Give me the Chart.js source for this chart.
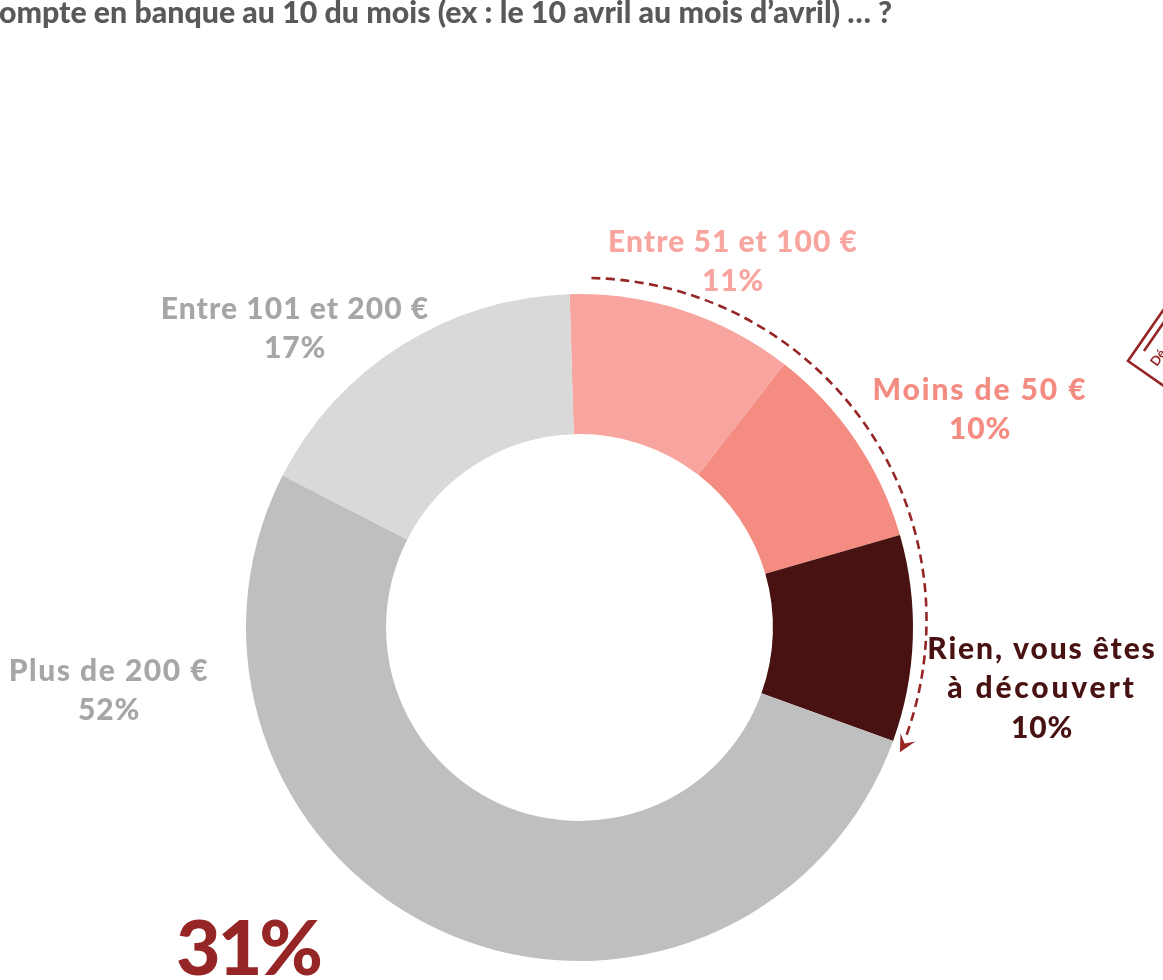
<!DOCTYPE html>
<html><head><meta charset="utf-8">
<script src="https://cdn.jsdelivr.net/npm/chart.js@4"></script>
<style>html,body{margin:0;padding:0;background:#fff;overflow:hidden}canvas{display:block}</style>
</head><body><canvas id="c" width="1163" height="980"></canvas>
<script>
const categories = ["Entre 51 et 100 €","Moins de 50 €","Rien, vous êtes à découvert","Plus de 200 €","Entre 101 et 200 €"];
const values = [11,10,10,52,17];
const colors = ["#F7A59E","#F48C82","#481212","#BFBFBF","#D9D9D9"];
const titleText = "ompte en banque au 10 du mois (ex : le 10 avril au mois d’avril) … ?";
const calloutText = "31%";
const labelLines = [["Entre 51 et 100 €","11%"],["Moins de 50 €","10%"],["Rien, vous êtes","à découvert","10%"],["Plus de 200 €","52%"],["Entre 101 et 200 €","17%"]];
const labelSpacing = [[1.05,0.8],[1.9,0.8],[1.9,2.8,0.8],[1.5,0.8],[1.05,0.8]];
const labelColors = ["#F7A59E","#F48C82","#481212","#A6A6A6","#A6A6A6"];
const labelAnchors = [[733,242],[980,390],[1042,649],[109,671],[295,309]];
const DARK = "#962626";
const deco = {
  id:'deco',
  afterDraw(chart){
    const ctx = chart.ctx, arcs = chart.getDatasetMeta(0).data;
    const cx = arcs[0].x, cy = arcs[0].y, R = arcs[0].outerRadius;
    ctx.save();
    // title
    ctx.textBaseline='alphabetic';ctx.textAlign='left';
    ctx.font='900 30.3px Lato';ctx.fillStyle='#595959';
    ctx.fillText(titleText,-1,23);
    // dashed bracket spanning the first three slices (slightly off-centre, as drawn in the source)
    const ax = cx+5, ay = cy-7.5, r = R+8.5;
    const a0 = arcs[0].startAngle+0.05, a1 = arcs[2].endAngle+0.05;
    ctx.strokeStyle=DARK;ctx.lineWidth=2.6;ctx.setLineDash([9,5.5]);
    ctx.beginPath();ctx.arc(ax,ay,r,a0,a1-0.045);ctx.stroke();ctx.setLineDash([]);
    const ex=ax+r*Math.cos(a1),ey=ay+r*Math.sin(a1);
    const t=a1+Math.PI/2+0.1, ux=Math.cos(t), uy=Math.sin(t);
    ctx.fillStyle=DARK;ctx.beginPath();
    ctx.moveTo(ex,ey);
    ctx.lineTo(ex-17*ux+8.5*uy,ey-17*uy-8.5*ux);
    ctx.lineTo(ex-10*ux,ey-10*uy);
    ctx.lineTo(ex-17*ux-8.5*uy,ey-17*uy+8.5*ux);
    ctx.closePath();ctx.fill();
    // labels
    ctx.textAlign='center';ctx.textBaseline='middle';
    ctx.font='900 30px Lato';
    labelLines.forEach((lines,i)=>{
      ctx.fillStyle=labelColors[i];
      const [x,y]=labelAnchors[i];
      lines.forEach((s,j)=>{
        ctx.letterSpacing=labelSpacing[i][j]+'px';
        ctx.fillText(s,x,y+j*39.5);
      });
    });
    // callout
    ctx.textAlign='left';ctx.textBaseline='alphabetic';
    ctx.letterSpacing='-3px';
    ctx.fillStyle=DARK;ctx.font='900 77px Lato';
    ctx.fillText(calloutText,176,975);
    ctx.letterSpacing='0px';
    // cut-off stamp at the right edge
    ctx.strokeStyle=DARK;ctx.lineWidth=2.6;
    ctx.beginPath();ctx.moveTo(1164,309);ctx.lineTo(1128,361);ctx.lineTo(1164,386);ctx.stroke();
    ctx.beginPath();ctx.moveTo(1164,322);ctx.lineTo(1144,351);ctx.stroke();
    ctx.translate(1157,367);ctx.rotate(-0.97);ctx.fillStyle=DARK;ctx.font='bold 13px Lato';ctx.textAlign='left';ctx.textBaseline='alphabetic';ctx.fillText('Dé',0,0);
    ctx.restore();
  }
};
new Chart(document.getElementById('c'),{
  type:'doughnut',
  data:{labels:categories,datasets:[{data:values,backgroundColor:colors,borderWidth:0}]},
  options:{responsive:false,animation:false,cutout:'58%',rotation:-1.7,
    layout:{padding:{left:246,right:250,top:294,bottom:19}},
    plugins:{legend:{display:false},tooltip:{enabled:false},title:{display:false}}},
  plugins:[deco]
});
</script></body></html>
